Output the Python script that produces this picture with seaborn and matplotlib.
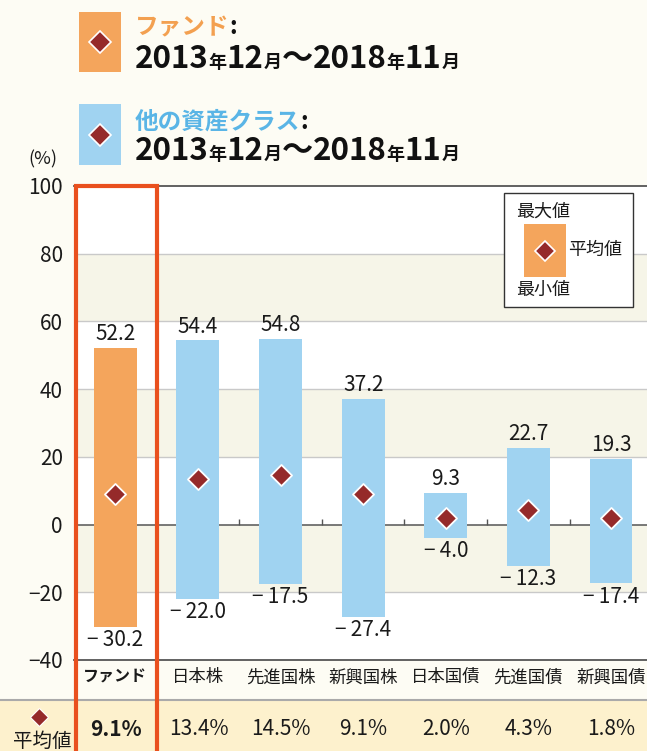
import matplotlib
matplotlib.use("Agg")
import matplotlib.pyplot as plt
import seaborn as sns
import pandas as pd
from matplotlib.patches import Rectangle
from matplotlib.lines import Line2D

categories = ["ファンド", "日本株", "先進国株", "新興国株", "日本国債", "先進国債", "新興国債"]
max_vals = [52.2, 54.4, 54.8, 37.2, 9.3, 22.7, 19.3]
min_vals = [-30.2, -22.0, -17.5, -27.4, -4.0, -12.3, -17.4]
mean_vals = [9.1, 13.4, 14.5, 9.1, 2.0, 4.3, 1.8]
y_ticks = [-40, -20, 0, 20, 40, 60, 80, 100]
title_fund = "ファンド"
title_other = "他の資産クラス"
period_runs = [("2013", True), ("年", False), ("12", True), ("月", False), ("～", True),
               ("2018", True), ("年", False), ("11", True), ("月", False)]

W, H = 647, 751
BG = "#fdfcf4"
BAND = "#f6f5e8"
ORANGE = "#f4a55c"
BLUE = "#a0d3f1"
DIAMOND = "#952a2a"
RED = "#e9501e"
FAM = ["Noto Sans CJK JP", "DejaVu Sans"]

sns.set_theme(style="white")
plt.rcParams["font.family"] = FAM
plt.rcParams["axes.unicode_minus"] = True

fig = plt.figure(figsize=(W / 100, H / 100), dpi=100)
fig.patch.set_facecolor(BG)


def fx(x):
    return x / W


def fy(y):
    return 1 - y / H


ax = fig.add_axes([fx(74), 91 / H, 573 / W, 474 / H])
ax.set_facecolor("white")

# bands and grid
for lo in [60, 20, -20]:
    ax.axhspan(lo, lo + 20, color=BAND, zorder=0, lw=0)
for t in y_ticks[1:-1]:
    if t != 0:
        ax.axhline(t, color="#c9c9c9", lw=1.0, zorder=1)
ax.axhline(0, color="#555555", lw=1.1, zorder=1)

df = pd.DataFrame({"cat": categories, "max": max_vals, "min": min_vals, "mean": mean_vals})
colors = [ORANGE] + [BLUE] * (len(categories) - 1)
sns.barplot(data=df, x="cat", y="max", hue="cat", palette=colors, order=categories,
            width=0.52, saturation=1, legend=False, ax=ax, linewidth=0, zorder=3)
sns.barplot(data=df, x="cat", y="min", hue="cat", palette=colors, order=categories,
            width=0.52, saturation=1, legend=False, ax=ax, linewidth=0, zorder=3)

pos = list(range(len(categories)))
sns.scatterplot(x=pos, y=mean_vals, marker="D", s=115, color=DIAMOND,
                edgecolor="white", linewidth=1.3, ax=ax, zorder=6, legend=False)

# small ticks on the zero line
ax.vlines([p + 0.5 for p in pos[:-1]], 0, 1.6, color="#555555", lw=1.0, zorder=1)

# value labels
for p, mx, mn in zip(pos, max_vals, min_vals):
    ax.annotate(f"{mx:.1f}", (p, mx), xytext=(0, 2), textcoords="offset points",
                ha="center", va="bottom", fontsize=15, color="#1a1a1a", zorder=7)
    ax.annotate(f"−\u2009{abs(mn):.1f}", (p, mn), xytext=(0, -1.5), textcoords="offset points",
                ha="center", va="top", fontsize=15, color="#1a1a1a", zorder=7, family=FAM)

ax.set_xlim(-0.5, 6.436)
ax.set_ylim(-40, 100)
ax.set_yticks(y_ticks)
ax.set_yticklabels([str(t).replace("-", "−") for t in y_ticks])
ax.tick_params(axis="y", length=0, pad=8, labelsize=15, labelcolor="#1a1a1a")
ax.set_xticks(pos)
ax.set_xticklabels(categories)
ax.tick_params(axis="x", length=0, pad=6, labelsize=12.5, labelcolor="#1a1a1a")
lab0 = ax.get_xticklabels()[0]
lab0.set_fontweight("bold")
lab0.set_fontsize(11.5)
ax.set_xlabel("")
ax.set_ylabel("")
for s in ["left", "right"]:
    ax.spines[s].set_visible(False)
for s in ["top", "bottom"]:
    ax.spines[s].set_color("#555555")
    ax.spines[s].set_linewidth(1.3)

# table row
fig.add_artist(Rectangle((0, 0), 1, fy(700), transform=fig.transFigure,
                         facecolor="#fdf1cd", edgecolor="none", zorder=0))
fig.add_artist(Line2D([0, 1], [fy(700), fy(700)], transform=fig.transFigure,
                      color="#aaaaaa", lw=1.5, zorder=1))
xcenters = [116 + 82.5 * i for i in pos]
for xc, m, i in zip(xcenters, mean_vals, pos):
    fig.text(fx(xc), fy(729), f"{m:.1f}%", ha="center", va="center", fontsize=15,
             fontweight="bold" if i == 0 else "normal", color="#1a1a1a")
fig.add_artist(Line2D([fx(39)], [fy(717)], transform=fig.transFigure, marker="D", ms=9,
                      mfc=DIAMOND, mec="white", mew=0.8, ls="none"))
fig.text(fx(42), fy(741), "平均値", ha="center", va="center", fontsize=14, color="#1a1a1a")

# red frame round the fund column
fig.add_artist(Rectangle((fx(75.5), fy(760)), (156.5 - 75.5) / W, (760 - 185.5) / H,
                         transform=fig.transFigure, facecolor="none", edgecolor=RED,
                         lw=3.0, zorder=10, clip_on=False))

# (%)
fig.text(fx(43), fy(159), "(%)", ha="center", va="center", fontsize=13, color="#1a1a1a")

# header
renderer = fig.canvas.get_renderer()


def rich(x, y, runs):
    cur = x
    for s, kw in runs:
        t = fig.text(fx(cur), fy(y), s, ha="left", va="baseline", **kw)
        bb = t.get_window_extent(renderer)
        cur += bb.width


def period_line(y):
    runs = []
    for s, big in period_runs:
        if big:
            runs.append((s, dict(fontsize=22.5, fontweight="bold", color="#111111")))
        else:
            runs.append((s, dict(fontsize=13, fontweight="bold", color="#111111")))
    rich(135, y, runs)


for (y0, y1, col, title, tcol, ty, py) in [
        (12, 72, ORANGE, title_fund, "#f3a050", 34, 68),
        (104, 165, BLUE, title_other, "#5ab5e6", 129, 160)]:
    fig.add_artist(Rectangle((fx(79), fy(y1)), 42 / W, (y1 - y0) / H, transform=fig.transFigure,
                             facecolor=col, edgecolor="none"))
    fig.add_artist(Line2D([fx(100)], [fy((y0 + y1) / 2)], transform=fig.transFigure, marker="D",
                          ms=11, mfc=DIAMOND, mec="white", mew=1.2, ls="none"))
    rich(135, ty, [(title, dict(fontsize=17, fontweight="bold", color=tcol)),
                   (":", dict(fontsize=17, fontweight="bold", color="#111111"))])
    period_line(py)

# legend box
fig.add_artist(Rectangle((fx(504), fy(307)), (633 - 504) / W, (307 - 193) / H,
                         transform=fig.transFigure, facecolor="white", edgecolor="#333333",
                         lw=1.0, zorder=8))
fig.add_artist(Rectangle((fx(524), fy(277)), 42 / W, 53 / H, transform=fig.transFigure,
                         facecolor=ORANGE, edgecolor="none", zorder=9))
fig.add_artist(Line2D([fx(545)], [fy(251)], transform=fig.transFigure, marker="D", ms=10,
                      mfc=DIAMOND, mec="white", mew=1.2, ls="none", zorder=10))
fig.text(fx(516), fy(212), "最大値", ha="left", va="center", fontsize=13, color="#1a1a1a", zorder=10)
fig.text(fx(568), fy(250), "平均値", ha="left", va="center", fontsize=13, color="#1a1a1a", zorder=10)
fig.text(fx(516), fy(290), "最小値", ha="left", va="center", fontsize=13, color="#1a1a1a", zorder=10)

fig.savefig("out.png", dpi=100, facecolor=BG)
